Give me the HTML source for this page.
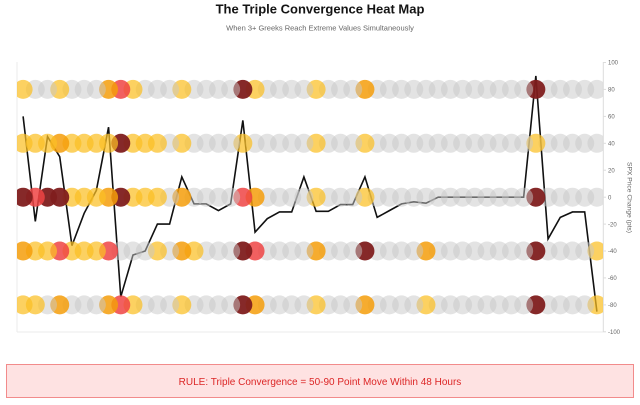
<!DOCTYPE html>
<html><head><meta charset="utf-8"><style>
html,body{margin:0;padding:0;background:#fff;width:640px;height:405px;overflow:hidden}
svg{display:block}
text{font-family:"Liberation Sans",Arial,sans-serif}
.g{fill:rgba(200,200,200,.5)}
.y{fill:rgba(251,191,36,.72)}
.o{fill:rgba(245,158,11,.85)}
.r{fill:rgba(239,68,68,.85)}
.d{fill:rgba(127,29,29,.95)}
</style></head><body>
<svg width="640" height="405" viewBox="0 0 640 405" xmlns="http://www.w3.org/2000/svg">
<defs><clipPath id="cp"><rect x="17" y="0" width="586" height="405"/></clipPath></defs>
<text x="320" y="13.5" text-anchor="middle" font-size="13" font-weight="bold" fill="#141414">The Triple Convergence Heat Map</text>
<text x="320" y="30.5" text-anchor="middle" font-size="7.5" fill="#666">When 3+ Greeks Reach Extreme Values Simultaneously</text>
<line x1="17" y1="62" x2="17" y2="332" stroke="#ebebeb" stroke-width="1"/>
<line x1="17" y1="332" x2="603" y2="332" stroke="#ebebeb" stroke-width="1"/>
<line x1="603.3" y1="62" x2="603.3" y2="332" stroke="#dcdcdc" stroke-width="1"/>
<g stroke="#dcdcdc" stroke-width="1">
<line x1="603" y1="62.5" x2="606" y2="62.5"/><line x1="603" y1="89.4" x2="606" y2="89.4"/><line x1="603" y1="116.4" x2="606" y2="116.4"/><line x1="603" y1="143.3" x2="606" y2="143.3"/><line x1="603" y1="170.2" x2="606" y2="170.2"/><line x1="603" y1="197.2" x2="606" y2="197.2"/><line x1="603" y1="224.1" x2="606" y2="224.1"/><line x1="603" y1="251" x2="606" y2="251"/><line x1="603" y1="277.9" x2="606" y2="277.9"/><line x1="603" y1="304.9" x2="606" y2="304.9"/><line x1="603" y1="331.8" x2="606" y2="331.8"/>
</g>
<g font-size="6" fill="#666">
<text x="608" y="64.7">100</text><text x="608" y="91.6">80</text><text x="608" y="118.6">60</text><text x="608" y="145.5">40</text><text x="608" y="172.4">20</text><text x="608" y="199.4">0</text><text x="608" y="226.3">-20</text><text x="608" y="253.2">-40</text><text x="608" y="280.1">-60</text><text x="608" y="307.1">-80</text><text x="608" y="334">-100</text>
</g>
<text transform="translate(627.5 197.5) rotate(90)" text-anchor="middle" font-size="6.7" fill="#666">SPX Price Change (pts)</text>

<polyline fill="none" stroke="#111" stroke-width="1.6" stroke-linejoin="miter" points="23.10,116.36 35.31,221.39 47.52,136.56 59.73,156.76 71.94,245.62 84.15,213.31 96.35,190.42 108.56,127.13 120.77,296.79 132.98,255.05 145.19,251.01 157.40,224.08 169.60,224.08 181.81,176.95 194.02,203.88 206.23,203.88 218.44,210.62 230.65,203.88 242.85,120.40 255.06,232.16 267.27,218.69 279.48,211.96 291.69,211.96 303.90,176.95 316.10,211.29 328.31,211.29 340.52,204.56 352.73,204.56 364.94,176.95 377.15,217.35 389.35,210.62 401.56,203.88 413.77,201.86 425.98,203.21 438.19,197.15 450.40,197.15 462.60,197.15 474.81,197.15 487.02,197.15 499.23,197.15 511.44,197.15 523.65,197.15 535.85,75.97 548.06,238.89 560.27,217.35 572.48,211.96 584.69,211.96 596.90,311.60"/>

<g clip-path="url(#cp)">
<g transform="translate(596.90 0)"><circle cy="89.4" r="9.5" class="g"/><circle cy="143.3" r="9.5" class="g"/><circle cy="197.2" r="9.5" class="g"/><circle cy="251" r="9.5" class="y"/><circle cy="304.9" r="9.5" class="y"/></g>
<g transform="translate(584.69 0)"><circle cy="89.4" r="9.5" class="g"/><circle cy="143.3" r="9.5" class="g"/><circle cy="197.2" r="9.5" class="g"/><circle cy="251" r="9.5" class="g"/><circle cy="304.9" r="9.5" class="g"/></g>
<g transform="translate(572.48 0)"><circle cy="89.4" r="9.5" class="g"/><circle cy="143.3" r="9.5" class="g"/><circle cy="197.2" r="9.5" class="g"/><circle cy="251" r="9.5" class="g"/><circle cy="304.9" r="9.5" class="g"/></g>
<g transform="translate(560.27 0)"><circle cy="89.4" r="9.5" class="g"/><circle cy="143.3" r="9.5" class="g"/><circle cy="197.2" r="9.5" class="g"/><circle cy="251" r="9.5" class="g"/><circle cy="304.9" r="9.5" class="g"/></g>
<g transform="translate(548.06 0)"><circle cy="89.4" r="9.5" class="g"/><circle cy="143.3" r="9.5" class="g"/><circle cy="197.2" r="9.5" class="g"/><circle cy="251" r="9.5" class="g"/><circle cy="304.9" r="9.5" class="g"/></g>
<g transform="translate(535.85 0)"><circle cy="89.4" r="9.5" class="d"/><circle cy="143.3" r="9.5" class="y"/><circle cy="197.2" r="9.5" class="d"/><circle cy="251" r="9.5" class="d"/><circle cy="304.9" r="9.5" class="d"/></g>
<g transform="translate(523.65 0)"><circle cy="89.4" r="9.5" class="g"/><circle cy="143.3" r="9.5" class="g"/><circle cy="197.2" r="9.5" class="g"/><circle cy="251" r="9.5" class="g"/><circle cy="304.9" r="9.5" class="g"/></g>
<g transform="translate(511.44 0)"><circle cy="89.4" r="9.5" class="g"/><circle cy="143.3" r="9.5" class="g"/><circle cy="197.2" r="9.5" class="g"/><circle cy="251" r="9.5" class="g"/><circle cy="304.9" r="9.5" class="g"/></g>
<g transform="translate(499.23 0)"><circle cy="89.4" r="9.5" class="g"/><circle cy="143.3" r="9.5" class="g"/><circle cy="197.2" r="9.5" class="g"/><circle cy="251" r="9.5" class="g"/><circle cy="304.9" r="9.5" class="g"/></g>
<g transform="translate(487.02 0)"><circle cy="89.4" r="9.5" class="g"/><circle cy="143.3" r="9.5" class="g"/><circle cy="197.2" r="9.5" class="g"/><circle cy="251" r="9.5" class="g"/><circle cy="304.9" r="9.5" class="g"/></g>
<g transform="translate(474.81 0)"><circle cy="89.4" r="9.5" class="g"/><circle cy="143.3" r="9.5" class="g"/><circle cy="197.2" r="9.5" class="g"/><circle cy="251" r="9.5" class="g"/><circle cy="304.9" r="9.5" class="g"/></g>
<g transform="translate(462.60 0)"><circle cy="89.4" r="9.5" class="g"/><circle cy="143.3" r="9.5" class="g"/><circle cy="197.2" r="9.5" class="g"/><circle cy="251" r="9.5" class="g"/><circle cy="304.9" r="9.5" class="g"/></g>
<g transform="translate(450.40 0)"><circle cy="89.4" r="9.5" class="g"/><circle cy="143.3" r="9.5" class="g"/><circle cy="197.2" r="9.5" class="g"/><circle cy="251" r="9.5" class="g"/><circle cy="304.9" r="9.5" class="g"/></g>
<g transform="translate(438.19 0)"><circle cy="89.4" r="9.5" class="g"/><circle cy="143.3" r="9.5" class="g"/><circle cy="197.2" r="9.5" class="g"/><circle cy="251" r="9.5" class="g"/><circle cy="304.9" r="9.5" class="g"/></g>
<g transform="translate(425.98 0)"><circle cy="89.4" r="9.5" class="g"/><circle cy="143.3" r="9.5" class="g"/><circle cy="197.2" r="9.5" class="g"/><circle cy="251" r="9.5" class="o"/><circle cy="304.9" r="9.5" class="y"/></g>
<g transform="translate(413.77 0)"><circle cy="89.4" r="9.5" class="g"/><circle cy="143.3" r="9.5" class="g"/><circle cy="197.2" r="9.5" class="g"/><circle cy="251" r="9.5" class="g"/><circle cy="304.9" r="9.5" class="g"/></g>
<g transform="translate(401.56 0)"><circle cy="89.4" r="9.5" class="g"/><circle cy="143.3" r="9.5" class="g"/><circle cy="197.2" r="9.5" class="g"/><circle cy="251" r="9.5" class="g"/><circle cy="304.9" r="9.5" class="g"/></g>
<g transform="translate(389.35 0)"><circle cy="89.4" r="9.5" class="g"/><circle cy="143.3" r="9.5" class="g"/><circle cy="197.2" r="9.5" class="g"/><circle cy="251" r="9.5" class="g"/><circle cy="304.9" r="9.5" class="g"/></g>
<g transform="translate(377.15 0)"><circle cy="89.4" r="9.5" class="g"/><circle cy="143.3" r="9.5" class="g"/><circle cy="197.2" r="9.5" class="g"/><circle cy="251" r="9.5" class="g"/><circle cy="304.9" r="9.5" class="g"/></g>
<g transform="translate(364.94 0)"><circle cy="89.4" r="9.5" class="o"/><circle cy="143.3" r="9.5" class="y"/><circle cy="197.2" r="9.5" class="y"/><circle cy="251" r="9.5" class="d"/><circle cy="304.9" r="9.5" class="o"/></g>
<g transform="translate(352.73 0)"><circle cy="89.4" r="9.5" class="g"/><circle cy="143.3" r="9.5" class="g"/><circle cy="197.2" r="9.5" class="g"/><circle cy="251" r="9.5" class="g"/><circle cy="304.9" r="9.5" class="g"/></g>
<g transform="translate(340.52 0)"><circle cy="89.4" r="9.5" class="g"/><circle cy="143.3" r="9.5" class="g"/><circle cy="197.2" r="9.5" class="g"/><circle cy="251" r="9.5" class="g"/><circle cy="304.9" r="9.5" class="g"/></g>
<g transform="translate(328.31 0)"><circle cy="89.4" r="9.5" class="g"/><circle cy="143.3" r="9.5" class="g"/><circle cy="197.2" r="9.5" class="g"/><circle cy="251" r="9.5" class="g"/><circle cy="304.9" r="9.5" class="g"/></g>
<g transform="translate(316.10 0)"><circle cy="89.4" r="9.5" class="y"/><circle cy="143.3" r="9.5" class="y"/><circle cy="197.2" r="9.5" class="y"/><circle cy="251" r="9.5" class="o"/><circle cy="304.9" r="9.5" class="y"/></g>
<g transform="translate(303.90 0)"><circle cy="89.4" r="9.5" class="g"/><circle cy="143.3" r="9.5" class="g"/><circle cy="197.2" r="9.5" class="g"/><circle cy="251" r="9.5" class="g"/><circle cy="304.9" r="9.5" class="g"/></g>
<g transform="translate(291.69 0)"><circle cy="89.4" r="9.5" class="g"/><circle cy="143.3" r="9.5" class="g"/><circle cy="197.2" r="9.5" class="g"/><circle cy="251" r="9.5" class="g"/><circle cy="304.9" r="9.5" class="g"/></g>
<g transform="translate(279.48 0)"><circle cy="89.4" r="9.5" class="g"/><circle cy="143.3" r="9.5" class="g"/><circle cy="197.2" r="9.5" class="g"/><circle cy="251" r="9.5" class="g"/><circle cy="304.9" r="9.5" class="g"/></g>
<g transform="translate(267.27 0)"><circle cy="89.4" r="9.5" class="g"/><circle cy="143.3" r="9.5" class="g"/><circle cy="197.2" r="9.5" class="g"/><circle cy="251" r="9.5" class="g"/><circle cy="304.9" r="9.5" class="g"/></g>
<g transform="translate(255.06 0)"><circle cy="89.4" r="9.5" class="y"/><circle cy="143.3" r="9.5" class="g"/><circle cy="197.2" r="9.5" class="o"/><circle cy="251" r="9.5" class="r"/><circle cy="304.9" r="9.5" class="o"/></g>
<g transform="translate(242.85 0)"><circle cy="89.4" r="9.5" class="d"/><circle cy="143.3" r="9.5" class="y"/><circle cy="197.2" r="9.5" class="r"/><circle cy="251" r="9.5" class="d"/><circle cy="304.9" r="9.5" class="d"/></g>
<g transform="translate(230.65 0)"><circle cy="89.4" r="9.5" class="g"/><circle cy="143.3" r="9.5" class="g"/><circle cy="197.2" r="9.5" class="g"/><circle cy="251" r="9.5" class="g"/><circle cy="304.9" r="9.5" class="g"/></g>
<g transform="translate(218.44 0)"><circle cy="89.4" r="9.5" class="g"/><circle cy="143.3" r="9.5" class="g"/><circle cy="197.2" r="9.5" class="g"/><circle cy="251" r="9.5" class="g"/><circle cy="304.9" r="9.5" class="g"/></g>
<g transform="translate(206.23 0)"><circle cy="89.4" r="9.5" class="g"/><circle cy="143.3" r="9.5" class="g"/><circle cy="197.2" r="9.5" class="g"/><circle cy="251" r="9.5" class="g"/><circle cy="304.9" r="9.5" class="g"/></g>
<g transform="translate(194.02 0)"><circle cy="89.4" r="9.5" class="g"/><circle cy="143.3" r="9.5" class="g"/><circle cy="197.2" r="9.5" class="g"/><circle cy="251" r="9.5" class="y"/><circle cy="304.9" r="9.5" class="g"/></g>
<g transform="translate(181.81 0)"><circle cy="89.4" r="9.5" class="y"/><circle cy="143.3" r="9.5" class="y"/><circle cy="197.2" r="9.5" class="o"/><circle cy="251" r="9.5" class="o"/><circle cy="304.9" r="9.5" class="y"/></g>
<g transform="translate(169.60 0)"><circle cy="89.4" r="9.5" class="g"/><circle cy="143.3" r="9.5" class="g"/><circle cy="197.2" r="9.5" class="g"/><circle cy="251" r="9.5" class="g"/><circle cy="304.9" r="9.5" class="g"/></g>
<g transform="translate(157.40 0)"><circle cy="89.4" r="9.5" class="g"/><circle cy="143.3" r="9.5" class="y"/><circle cy="197.2" r="9.5" class="y"/><circle cy="251" r="9.5" class="y"/><circle cy="304.9" r="9.5" class="g"/></g>
<g transform="translate(145.19 0)"><circle cy="89.4" r="9.5" class="g"/><circle cy="143.3" r="9.5" class="y"/><circle cy="197.2" r="9.5" class="y"/><circle cy="251" r="9.5" class="g"/><circle cy="304.9" r="9.5" class="g"/></g>
<g transform="translate(132.98 0)"><circle cy="89.4" r="9.5" class="y"/><circle cy="143.3" r="9.5" class="y"/><circle cy="197.2" r="9.5" class="y"/><circle cy="251" r="9.5" class="g"/><circle cy="304.9" r="9.5" class="y"/></g>
<g transform="translate(120.77 0)"><circle cy="89.4" r="9.5" class="r"/><circle cy="143.3" r="9.5" class="d"/><circle cy="197.2" r="9.5" class="d"/><circle cy="251" r="9.5" class="g"/><circle cy="304.9" r="9.5" class="r"/></g>
<g transform="translate(108.56 0)"><circle cy="89.4" r="9.5" class="o"/><circle cy="143.3" r="9.5" class="y"/><circle cy="197.2" r="9.5" class="o"/><circle cy="251" r="9.5" class="r"/><circle cy="304.9" r="9.5" class="o"/></g>
<g transform="translate(96.35 0)"><circle cy="89.4" r="9.5" class="g"/><circle cy="143.3" r="9.5" class="y"/><circle cy="197.2" r="9.5" class="y"/><circle cy="251" r="9.5" class="y"/><circle cy="304.9" r="9.5" class="g"/></g>
<g transform="translate(84.15 0)"><circle cy="89.4" r="9.5" class="g"/><circle cy="143.3" r="9.5" class="y"/><circle cy="197.2" r="9.5" class="y"/><circle cy="251" r="9.5" class="y"/><circle cy="304.9" r="9.5" class="g"/></g>
<g transform="translate(71.94 0)"><circle cy="89.4" r="9.5" class="g"/><circle cy="143.3" r="9.5" class="y"/><circle cy="197.2" r="9.5" class="y"/><circle cy="251" r="9.5" class="y"/><circle cy="304.9" r="9.5" class="g"/></g>
<g transform="translate(59.73 0)"><circle cy="89.4" r="9.5" class="y"/><circle cy="143.3" r="9.5" class="o"/><circle cy="197.2" r="9.5" class="d"/><circle cy="251" r="9.5" class="r"/><circle cy="304.9" r="9.5" class="o"/></g>
<g transform="translate(47.52 0)"><circle cy="89.4" r="9.5" class="g"/><circle cy="143.3" r="9.5" class="y"/><circle cy="197.2" r="9.5" class="d"/><circle cy="251" r="9.5" class="y"/><circle cy="304.9" r="9.5" class="g"/></g>
<g transform="translate(35.31 0)"><circle cy="89.4" r="9.5" class="g"/><circle cy="143.3" r="9.5" class="y"/><circle cy="197.2" r="9.5" class="r"/><circle cy="251" r="9.5" class="y"/><circle cy="304.9" r="9.5" class="y"/></g>
<g transform="translate(23.10 0)"><circle cy="89.4" r="9.5" class="y"/><circle cy="143.3" r="9.5" class="y"/><circle cy="197.2" r="9.5" class="d"/><circle cy="251" r="9.5" class="o"/><circle cy="304.9" r="9.5" class="y"/></g>
</g>

<rect x="6.5" y="364.5" width="627" height="33" fill="#fee2e2" stroke="#f28b8b" stroke-width="1"/>
<text x="320" y="384.8" text-anchor="middle" font-size="10" fill="#dc2626">RULE: Triple Convergence = 50-90 Point Move Within 48 Hours</text>
</svg>
</body></html>
